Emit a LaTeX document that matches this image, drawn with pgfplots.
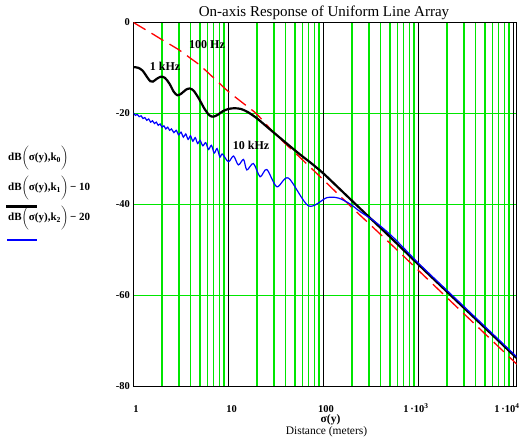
\documentclass[border=0pt]{standalone}
\usepackage{pgfplots}
\pgfplotsset{compat=1.18}
\usepackage{fontspec}
\setmainfont{Liberation Serif}
\definecolor{gridgreen}{RGB}{0,230,0}
\newcommand{\tickfont}{\fontsize{10.5bp}{12bp}\selectfont\bfseries}
\newcommand{\legfont}{\fontsize{11bp}{12bp}\selectfont\bfseries}
\begin{document}
\begin{tikzpicture}[x=1bp,y=1bp]
\useasboundingbox (0,0) rectangle (525,444);
\begin{axis}[
  at={(133.5bp,57.5bp)}, anchor=south west,
  scale only axis, width=383bp, height=364bp,
  xmode=log, xmin=1, xmax=10760, ymin=-80, ymax=0,
  xtick={2,3,4,5,6,7,8,9,20,30,40,50,60,70,80,90,200,300,400,500,600,700,800,900,2000,3000,4000,5000,6000,7000,8000,9000},
  xticklabels=\empty,
  extra x ticks={10,100,1000,10000},
  extra x tick labels={},
  extra x tick style={major x grid style={black, line width=1.5bp}, major tick length=0pt},
  ytick={-80,-60,-40,-20,0}, yticklabels={{-80},{-60},{-40},{-20},0},
  yticklabel style={font=\tickfont},
  major tick length=0pt, minor tick length=0pt,
  xmajorgrids, ymajorgrids,
  major x grid style={gridgreen, line width=1.4bp},
  major y grid style={gridgreen, line width=1.2bp},
  axis line style={black, line width=1bp},
]
\addplot[red, line width=1.3bp, dash pattern=on 14bp off 7bp, smooth] coordinates {
(1,0) (1.27,-1.3) (1.6,-2.55) (2,-3.8) (3,-6.0) (4,-7.9) (5,-9.4) (7,-12.2) (10,-15.2) (15,-18.1) (20,-20.2) (30,-24.2) (50,-28.6) (70,-31.5) (100,-34.6) (200,-40.7) (500,-48.5) (1000,-54.5) (2000,-60.5) (5000,-68.4) (10000,-74.4) (10760,-75.0)
};
\addplot[black, line width=2.2bp, smooth] coordinates {
(1,-9.8) (1.12,-9.95) (1.25,-10.6) (1.38,-11.9) (1.5,-12.9) (1.6,-13.0) (1.75,-12.4) (1.95,-11.9) (2.15,-12.2) (2.4,-13.5) (2.65,-15.2) (2.9,-16.0) (3.2,-15.6) (3.55,-14.8) (3.9,-14.5) (4.3,-15.0) (4.9,-16.8) (5.6,-19.0) (6.3,-20.4) (6.9,-20.7) (7.7,-20.3) (8.7,-19.5) (10,-19.0) (11.5,-18.85) (13.5,-19.0) (16,-19.7) (20,-21.1) (27,-23.4) (40,-26.4) (55,-28.8) (75,-31.0) (100,-33.2) (150,-36.7) (200,-39.2) (300,-42.7) (500,-47.1) (1000,-53.2) (2000,-59.2) (5000,-67.1) (10000,-73.1) (10760,-73.7)
};
\addplot[blue, line width=1.2bp, smooth] coordinates {
(1.000,-19.9) (1.047,-20.4) (1.096,-20.2) (1.148,-20.7) (1.202,-20.5) (1.259,-21.1) (1.318,-20.9) (1.380,-21.5) (1.445,-21.2) (1.514,-21.9) (1.585,-21.6) (1.660,-22.2) (1.738,-21.9) (1.820,-22.6) (1.905,-22.3) (1.995,-23.0) (2.089,-22.7) (2.188,-23.4) (2.291,-23.0) (2.399,-23.7) (2.512,-23.4)
(2.661,-24.2) (2.818,-23.7) (2.985,-24.7) (3.162,-24.1) (3.350,-25.2) (3.548,-24.5) (3.758,-25.7) (3.981,-24.9) (4.217,-26.1) (4.467,-25.3) (4.732,-26.6) (5.012,-25.9)
(5.370,-27.1) (5.754,-26.4) (6.166,-27.9) (6.607,-27.0) (7.079,-28.7) (7.586,-27.7) (8.128,-29.6) (8.6,-28.9)
(9.98,-30.6) (11.3,-29.35) (12.7,-31.3) (14.4,-30.1) (15.6,-32.4) (18.3,-31.0) (21.5,-33.9) (25.3,-32.3) (32.3,-36.1) (42.8,-34.2) (69.5,-40.3) (108.6,-38.5) (144,-38.6) (191,-39.9) (244,-41.6) (350,-43.8) (547,-47.3) (1000,-52.9) (2000,-58.9) (5000,-66.8) (10000,-72.8) (10760,-73.4)
};
\end{axis}
% title and axis labels
\node[anchor=base, font=\fontsize{15bp}{18bp}\selectfont] at (324,427) {On-axis Response of Uniform Line Array};
\node[anchor=base, font=\tickfont] at (136,31.3) {1};
\node[anchor=base, font=\tickfont] at (231.5,31.3) {10};
\node[anchor=base, font=\tickfont] at (326,31.3) {100};
\node[anchor=base, font=\tickfont] at (416,31.3) {1\,·10\textsuperscript{3}};
\node[anchor=base, font=\tickfont] at (507,31.3) {1\,·10\textsuperscript{4}};
\node[anchor=base, inner sep=0pt, font=\fontsize{11.5bp}{13bp}\selectfont\bfseries] at (330.5,21.5) {σ(y)};
\node[anchor=base, inner sep=0pt, font=\fontsize{11.5bp}{13bp}\selectfont] at (326.5,9.5) {Distance (meters)};
% annotations
\node[font=\fontsize{12bp}{14bp}\selectfont\bfseries] at (207,399) {100 Hz};
\node[font=\fontsize{12bp}{14bp}\selectfont\bfseries] at (165,378) {1 kHz};
\node[font=\fontsize{12bp}{14bp}\selectfont\bfseries] at (251,299) {10 kHz};
% legend
\node[anchor=west, inner sep=0pt, font=\legfont] at (8,286) {dB$\biggl($σ(y),k\textsubscript{0}$\biggr)$};
\node[anchor=west, inner sep=0pt, font=\legfont] at (8,256) {dB$\biggl($σ(y),k\textsubscript{1}$\biggr)$\,− 10};
\draw[black, line width=2.5bp] (6,237.3) -- (37,237.3);
\node[anchor=west, inner sep=0pt, font=\legfont] at (8,226) {dB$\biggl($σ(y),k\textsubscript{2}$\biggr)$\,− 20};
\draw[blue, line width=1.3bp] (7,204) -- (37,204);
\end{tikzpicture}
\end{document}
